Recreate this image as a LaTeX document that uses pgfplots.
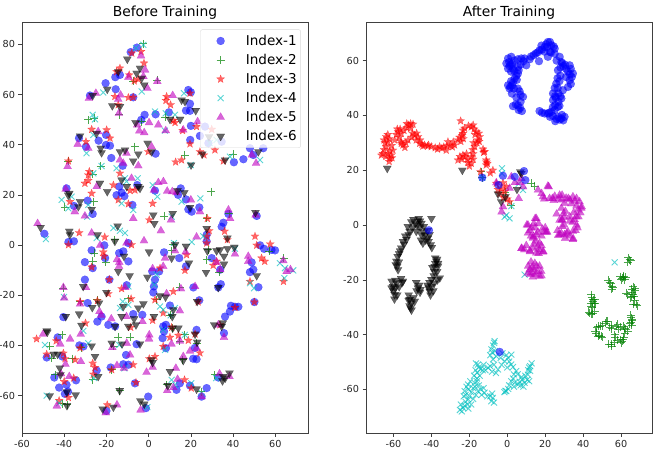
\documentclass[border=0pt]{standalone}
\usepackage{fontspec}
\setmainfont{DejaVu Sans}
\usepackage{pgfplots}
\pgfplotsset{compat=1.18}

\definecolor{mgreen}{rgb}{0,0.5,0}
\definecolor{mcyan}{rgb}{0,0.75,0.75}
\definecolor{mmag}{rgb}{0.75,0,0.75}
\definecolor{tickgray}{gray}{0.15}

% filled five-point star, plotmarks has only the stroked one
\pgfdeclareplotmark{fstar}{%
  \pgfpathmoveto{\pgfpointpolar{90}{\pgfplotmarksize}}%
  \pgfpathlineto{\pgfpointpolar{126}{0.42\pgfplotmarksize}}%
  \pgfpathlineto{\pgfpointpolar{162}{\pgfplotmarksize}}%
  \pgfpathlineto{\pgfpointpolar{198}{0.42\pgfplotmarksize}}%
  \pgfpathlineto{\pgfpointpolar{234}{\pgfplotmarksize}}%
  \pgfpathlineto{\pgfpointpolar{270}{0.42\pgfplotmarksize}}%
  \pgfpathlineto{\pgfpointpolar{306}{\pgfplotmarksize}}%
  \pgfpathlineto{\pgfpointpolar{342}{0.42\pgfplotmarksize}}%
  \pgfpathlineto{\pgfpointpolar{18}{\pgfplotmarksize}}%
  \pgfpathlineto{\pgfpointpolar{54}{0.42\pgfplotmarksize}}%
  \pgfpathclose\pgfusepathqfillstroke}

\pgfplotsset{
  panel/.style={
    scale only axis, width=286bp, height=411bp,
    axis line style={black!75, line width=0.8pt},
    tick align=outside, tick pos=left,
    major tick length=3.5bp,
    every tick/.style={black!75, line width=0.6pt},
    tick label style={font=\fontsize{9.7}{11}\selectfont, text=tickgray},
    /pgf/number format/assume math mode=true,
    title style={font=\fontsize{13.9}{16}\selectfont, yshift=-7bp},
  },
  % only marks brings its own legend image, this one leaves the room around the mark
  wide legend/.style={legend image code/.code={
    \path (-18bp,0bp) (23bp,0bp);
    \draw[##1] plot coordinates {(0bp,0bp)};}},
  idx1/.style={only marks, wide legend, mark=*, mark size=4bp,
    mark options={draw=blue, fill=blue, opacity=0.6, line width=0.1pt}},
  idx2/.style={only marks, wide legend, mark=+, mark size=4bp,
    mark options={draw=mgreen, opacity=0.7, line width=0.9pt}},
  idx3/.style={only marks, wide legend, mark=fstar, mark size=4.3bp,
    mark options={draw=red, fill=red, opacity=0.6, line width=0.1pt}},
  idx4/.style={only marks, wide legend, mark=x, mark size=4.2bp,
    mark options={draw=mcyan, opacity=0.65, line width=0.9pt}},
  idx5/.style={only marks, wide legend, mark=triangle*, mark size=4.7bp,
    mark options={draw=mmag, fill=mmag, opacity=0.6, line width=0.1pt}},
  idx6/.style={only marks, wide legend, mark=triangle*, mark size=4.7bp,
    mark options={draw=black, fill=black, opacity=0.6, line width=0.1pt, rotate=180}},
}

\begin{document}
\begin{tikzpicture}
\useasboundingbox (-22bp,-23bp) rectangle (640bp,433bp);

\begin{axis}[panel, at={(0bp,0bp)}, anchor=south west,
  title={Before Training},
  xmin=-60, xmax=75.5, ymin=-74.9, ymax=88.9,
  xtick={-60,-40,...,60}, ytick={-60,-40,...,80},
  legend style={at={(0.975,0.982)}, anchor=north east,
    font=\fontsize{13.6}{15}\selectfont,
    draw=black!15, fill=white, fill opacity=0.8, text opacity=1,
    rounded corners=2bp, row sep=3.3bp, inner xsep=2bp, inner ysep=3.5bp},
  legend cell align=left,
]
\addplot[idx1] coordinates {
(-5.5,78.7) (-8.5,76.9) (-20.4,64.5) (-15.8,66.9) (-13.6,67.8) (-15.6,62.1) (-27.8,59.6) (-7.3,58.9)
(18.8,61.8) (20,60.9) (19.6,56.3) (17.7,53.6) (19.6,53.5) (9.6,52.9) (3.3,52.1) (-1.9,51.9) (-3.5,49.9)
(20,47.5) (26.7,47.2) (19.7,41.9) (24.3,43.5) (28.3,40.6) (34.6,41.2) (-23.7,41.6) (-20.2,43.9) (-18.3,39.6)
(-20.2,39.9) (-29.7,39.2) (-33,42.6) (-17.7,34.7) (3.3,36.4) (40.4,33) (44.9,34.2) (49.6,35.9) (48,38.6)
(54.3,38.6) (-38.9,22.6) (-28.9,17.7) (-26.5,12.4) (-35.4,15.6) (-13.9,23.3) (-15.2,19.9) (-12.8,20.9)
(-11.5,19.5) (-7.7,16) (-5.4,23.9) (-12.3,31.6) (3,21.7) (15.2,22.6) (14,20) (17.7,18.2) (18.8,14.2)
(20.4,13.3) (24,15) (37.8,12.4) (51.2,11.6) (35.4,8.9) (34.6,7.3)
(-49.4,4.5) (-38,1.2) (-35.4,1.5) (-27,-2.1) (-30.2,-6.8) (-26.5,-9.2) (-20.6,-5.2) (-21,-0.1) (-9.6,0.8)
(-14,-3.2) (-12,-2.5) (-9.6,-6.5) (-30.2,-13.8) (-18.6,-13.8) (-10.4,-16) (7.3,-2.9) (14.5,-5.2) (1.7,-10.5)
(5,-10.5) (3,-13.8) (2.5,-16.5) (2.2,-18.9) (17.7,-8.5) (21.2,-16.9) (24,-22) (27.5,4.1) (27.5,1.5) (29.9,-5.2)
(33.9,-9.8) (34.2,-15.6) (33,-16.9) (48.8,-6.9) (48,-10.8) (49.6,-9.8) (52,-16.8) (50.1,-22.7) (52.8,-0.1)
(54.7,-1.5) (58.2,-1.9) (59.9,-2.1) (-28.9,-23.1) (-40.4,-28.7) (-24.3,-30.5) (-22.3,-28.5) (-19.1,-31.8)
(-15.9,-32.4) (-7.3,-27.5) (-3,-27.8) (-43.1,-36.8) (-32.8,-40) (-30.9,-40.4) (-5.7,-39.5) (10.1,-24.1)
(6.9,-32.4) (8.2,-31.8) (7.3,-34.4) (6.6,-37.1) (8.2,-41.1) (22.7,-33.8) (21.9,-41) (21.1,-45.3) (22.7,-45.5)
(38.5,-26.5) (36.2,-28.5) (39,-24.2) (40.9,-24.6) (42.5,-24.6) (35.7,-35.1) (-48.3,-44.8) (-40.9,-44.4)
(-44.7,-52.8) (-42.4,-56.8) (-38.9,-55.7) (-38.2,-58.4) (-39.7,-59.3) (-34.4,-53.9) (-18,-48.8) (-12,-47.5)
(-9.6,-47.7) (-10.7,-43.8) (-24.6,-50) (-6.5,-55.1) (-0.2,-60.4) (-1.3,-65) (13.2,-57.7) (14.8,-55.1)
(19.6,-56) (27.5,-57) (25.1,-60.4) (33,-52.8) (-20,-66.1)
};
\addlegendentry{Index-1}
\addplot[idx2] coordinates {
(-2.5,80.2) (4.1,65.8) (-7.3,65.4) (-28.6,49.9) (-25.7,50.5) (-13.9,51.9) (-6.5,39.2) (-22.7,31.5) (-38,33.5)
(17.2,35.9) (40.1,36.3) (29.7,21.3) (-26,17.3) (-39.7,15) (7.4,11.6) (38.3,12.4) (27.5,10.6) (-26.5,28.3)
(-3.3,49.2) (7.8,50.9) (-16,2.1) (11.7,0.1) (10.9,-2.3) (-25.7,-3.2) (-20.3,-6.8) (-26.5,-6.5) (28.3,-1.9)
(27.5,-5.9) (57.2,-2.5) (64,-5.2) (33.5,-10.9) (14.8,-16.9) (-40.4,-17.2) (3.8,-21.8) (-32.5,-22.5) (-24.3,-21.8)
(-9.6,-21.4) (10.1,-28) (11.2,-33.1) (14.8,-38.4) (-14.3,-36.8) (-8.8,-36.8) (-16.6,-40.4) (-41,-35.8)
(-46.8,-40.4) (-46,-45) (-32,-41) (-36.3,-45.3) (-26.5,-53.7) (-44.3,-51.7) (-13.7,-58) (-40.9,-63.3)
(-38.6,-63.7) (16.1,-45.7) (31.4,-51.7) (25,-58.4) (8.5,-55.7) (-17.5,-49.7) (22.7,-39.1) (17,-35.8)
};
\addlegendentry{Index-2}
\addplot[idx3] coordinates {
(-8,76.5) (-3.6,77.1) (-2.2,72.5) (-13.6,70.5) (-15.2,69.1) (-9.2,67.8) (-6.8,65.4) (-4.9,66.1) (-16,59.2)
(-9.6,58.8) (-7.3,58.9) (-14.4,55.9) (8.5,59.2) (8.2,57.6) (10.4,55.9) (19.6,60.5) (11.7,49.6) (12.5,48.8)
(22.7,47.2) (29.9,46.1) (16.1,45.6) (19.6,40.3) (24.3,37.2) (26.2,35.9) (31.4,37.9) (35.4,33.5) (12.8,33.1)
(15.6,33.9) (-0.2,37.2) (-27,46.1) (-19.9,45.9) (-18.3,42.6) (-29.7,41.2) (-38,33.5) (-28.1,29.3) (-28.6,27.9)
(-28.6,25.7) (-30.2,24.6) (-27,20.6) (-16.7,23.9) (-14.4,18) (-9.6,16.4) (-13.6,28.6) (-8.8,21.7) (-6.5,21.9)
(1.9,16.6) (-37.3,17.3) (27.8,10.6) (0.3,10)
(-32.9,4.9) (-38,0.1) (-20.8,3.2) (-8.1,0.1) (-21.5,-2.8) (-21.2,-4.5) (-27,-8.8) (-18.6,-13.8) (-12.8,-17.4)
(-19.1,-19.4) (-32.5,-22.5) (-24.3,-22.2) (-8.3,-21.4) (27.5,3.5) (28.7,5.7) (36,5.5) (37.3,2.1) (27.5,0.8)
(5.4,-9.2) (17.2,-10.1) (18,-3.9) (30.6,-8.1) (32.2,-6.5) (11.7,-18.5) (3,-21.8) (6.9,-27.1) (1.9,-30) (23.5,-22.7)
(50.4,3.5) (51.2,-0.1) (57.6,0.4) (53.5,-5.2) (55,-6.5) (63.9,-14.5) (48,-14.5) (50.1,-22.7) (40.9,-24.9)
(-29.9,-31.1) (-53.1,-37.4) (-43.8,-38.2) (-32.5,-41) (-48.3,-43.5) (-40.4,-43.1) (-39.6,-45.3) (-34.8,-45.7)
(-26.5,-47.1) (-25.4,-48.8) (-26.2,-51.5) (-17.5,-49.7) (-7.3,-47.7) (-6,-54.8) (-40,-54.4) (-35.5,-53)
(-38,-60.8) (-42.4,-62) (-19.6,-63.7) (3,-44.4) (0.3,-45.3) (10.1,-36.8) (14.1,-36) (18.8,-38) (22,-35.5)
(24.3,-43) (6.9,-40.4) (-8.5,-32.8) (17,-53.7) (20.2,-57) (10.9,-32.8) (33.8,-31.8)
};
\addlegendentry{Index-3}
\addplot[idx4] coordinates {
(-2.5,79.8) (-6,78.5) (-21.5,60.8) (-3.3,61.2) (-26.5,51.9) (-25.4,50.1) (3,53.2) (8.1,52.5) (12.5,51.9) (16.7,60.5)
(7.7,45.6) (-29.4,36.6) (-26.2,43.9) (-15.2,30.6) (-22.3,31.5) (-26.2,28.6) (-5.2,26.6) (-11.2,26.6) (-10.5,25.3)
(1.9,23.9) (4.1,19.3) (24.5,18.6) (-41.2,18) (-36.5,19.3) (-28.6,16) (-38,14.6) (-29.1,11.3) (-12.8,16.6) (-7.3,14)
(15.6,17.3) (10.9,11.3) (19.9,31.9) (38.5,35.2) (52.8,33.9) (32.2,41.9) (29,40.6)
(-48.7,2.4) (-11.2,4.8) (-13.6,5.7) (-16.7,6.8) (-24.6,2.8) (12,0.8) (20.4,1.2) (25.9,3.5) (40.9,-1.5) (62.2,-7.2)
(64.6,-9.2) (68.5,-10.1) (64.3,-13.2) (49.9,-17.2) (48,-15.2) (2.7,-15.8) (3.8,-11.8) (-40.1,-20.7) (-12.3,-22.5)
(-13.6,-25.1) (-9.6,-23.8) (-9.6,-16.5) (5.4,-24.5) (6.9,-25.8) (12.5,-25.1) (10.4,-28) (-30.9,-34.2) (-49.1,-39.8)
(-28.6,-39.1) (-13.9,-39.8) (17.2,-35.8) (6.9,-33.8) (7.8,-41.8) (-11.5,-49.1) (-48.3,-60) (-42.4,-63) (-0.6,-64.6)
(10.9,-53.7) (12.5,-55.7) (20.2,-55.1) (32,-53) (-25.9,-53) (25.1,-59)
};
\addlegendentry{Index-4}
\addplot[idx5] coordinates {
(-3.6,75.4) (-1.7,69.8) (-9.6,66.9) (-2.5,67.2) (-0.6,62.5) (4.1,65.2) (-25,60.5) (-28.3,58.5) (-13.3,59.8) (-14.4,58.1)
(-14.1,52.5) (11.4,59.6) (-5.4,47.9) (-4.4,45.5) (-2.1,44.8) (0.2,48.8) (4.6,47.9) (8.1,45.6) (23.2,49.2) (16.4,45.9)
(-33.6,40.2) (-28.6,38.6) (-23.9,45.2) (1.4,39.2) (-38.4,31.3) (-10.5,36.6) (-12,32.6) (-4.9,31.6) (-13.6,33.9)
(-8.1,26.6) (4.6,24.9) (7,25.3) (-39.3,22.3) (-24.6,23.3) (2.5,21.9) (8.8,21.5) (11.2,21.3) (13.2,20.9) (20,18)
(24.3,13.3) (-35,13.3) (-30.2,11.6) (-7.3,10.6) (10.6,10) (37.8,14) (38.6,10.6) (50.7,12) (-52.6,8.6) (50.9,32.6) (48.9,35.9)
(-27,4.8) (5.8,5.7) (-2.2,1.7) (22.7,3.2) (-23,-0.1) (-10.5,0.8) (17.5,-2.8) (-15,-5.8) (-13.9,-6.9) (-14,-8.5)
(7.8,-5.2) (12.5,-2.3) (6.9,-8.5) (1.9,-9.4) (32.2,-6.9) (33.9,-9.8) (47.2,-4.5) (40.9,-3.6) (47.2,-6.5) (63.8,-6.2)
(65.4,-10.5) (67.2,-9.8) (-40.4,-16.9) (-40,-21.1) (-29.7,-16.9) (-11.1,-16.9) (22,-16.5) (15.3,-17.4) (8.5,-19.4)
(-32.5,-23.5) (-23.3,-26.5) (-22.5,-28) (-17.7,-29.4) (-10.5,-28.5) (-2.9,-30.5) (14.8,-26.2) (-32.2,-35.5) (-50,-35.5)
(-37.2,-37.4) (-41.9,-39.4) (0.3,-35.8) (0.2,-37.4) (-17.2,-40.8) (-10.4,-39.1) (10.8,-39.4) (14.8,-38.2) (33,-31.8)
(35.7,-36.8) (16.4,-44.4) (19.6,-42.2) (22.7,-41.1) (-32.1,-46.4) (-39.4,-47.5) (-8.8,-43.8) (-15,-48) (-11.7,-49.1)
(1.9,-48.7) (-1,-50.7) (12.9,-49.1) (13.7,-53.5) (-37.6,-52.4) (-41.5,-51.3) (8.8,-58) (11.7,-56.8) (25.1,-60.4)
(33.6,-51.3) (38.3,-52.4) (-43.5,-64.1) (-15,-63.7) (-3.8,-65.7) (-20.3,-66.8)
};
\addlegendentry{Index-5}
\addplot[idx6] coordinates {
(-10.1,74.1) (-4.1,70.5) (-5.7,68.5) (-14.4,69.1) (-3.3,66.5) (-2.1,63.8) (-19.6,62.1) (-26.5,59.6) (-17.2,55.5)
(-13.6,55.2) (15.6,57.8) (17.2,57.2) (22.3,53.6) (-6.2,48.8) (10.1,50.1) (14.9,50.1) (-32.5,43.5) (-24.7,44.5)
(-22.7,38.6) (-22.3,36.8) (-13.6,37.2) (-11.2,37.9) (-4.9,36.3) (-7.3,33.5) (-0.5,40.6) (1.4,37.2) (20.1,31.9)
(25.4,36.3) (28.6,43.2) (36.2,33.9) (52,37.2) (-12.8,25.9) (-10.4,23.3) (-23.1,24.6) (-19.6,21.3) (-4.9,23.3)
(-4.1,22.6) (-38.1,19.9) (-37.6,20.6) (-32.5,17.3) (-33.3,15.3) (-27,14.2) (13.7,21.7) (16.9,20.9) (19.6,15) (2.2,12)
(11.4,12.6) (50.6,13) (2.7,8.6) (-14.7,7.6) (-51.2,7) (27.5,6.6)
(-37.6,5.5) (-37.3,4.1) (-24.2,4.1) (-16,1.5) (17.7,-0.5) (12.5,0.1) (0.2,-2.8) (10.9,-5.2) (19.1,-7.2) (27.8,-2.3)
(32.2,-2.3) (33.8,-1.9) (37.3,2.8) (37.4,-1.5) (40.6,-0.9) (35.7,-4.5) (35.7,-7.6) (27.2,-10.9) (51.2,-12.2) (33,-16.9)
(-14.4,-10.5) (-9,-12.2) (-11.7,-4.5) (-0.6,-12.8) (-31,-16.5) (-20,-18.9) (5.4,-20.2) (8,-20.7) (23,-22.5) (-26.7,-24.9)
(-23.5,-23.1) (-32.9,-27.5) (-12,-24.5) (-2.5,-23.4) (-4.9,-25.1) (-39.3,-28.5) (-12.8,-28.5) (-6.9,-29.4) (2.5,-28.5)
(11.7,-25.8) (11.2,-28.5) (-31.8,-32) (-48.3,-34.2) (-48,-34.7) (-15.9,-32.4) (-9.6,-32.4) (-6,-31.8) (11.4,-33.1)
(14.1,-33.1) (22,-35.5) (35.1,-31.1) (31.1,-31.8) (34.6,-32.4) (-27,-40.2) (-17.5,-39.1) (-12.6,-39.4) (-4.1,-39.4)
(23,-38.7) (-45,-43.5) (-43.1,-43.5) (-25.4,-44.4) (1.4,-45.7) (1.9,-46.8) (16.4,-46) (-42.1,-49) (-41.8,-51.7)
(-23.9,-52.4) (10.1,-50.4) (9.1,-56) (-13.7,-58) (-46.9,-60.1) (-34.6,-59.7) (-38.8,-58.6) (-38.7,-64) (-3.9,-62.1)
(-2.1,-63.4) (-21.8,-65.3) (-16.7,-64.6) (22.7,-57.4) (35.3,-52.4) (35,-54.1) (38.3,-51) (36.3,-53)
};
\addlegendentry{Index-6}
\end{axis}

\begin{axis}[panel, at={(344bp,0bp)}, anchor=south west,
  title={After Training},
  xmin=-74.5, xmax=76.3, ymin=-75.9, ymax=74.1,
  xtick={-60,-40,...,60}, ytick={-60,-40,...,60},
]
\addplot[idx1] coordinates {
(7.7,41.6) (3,43.4) (5.6,43.7) (8.3,46.8) (5.6,49.8) (1.2,49.8) (0.4,51) (3.9,53.5) (5.6,55.3) (0.4,57.1) (3,57.1)
(5.6,57.7) (10,58.3) (0.4,60.8) (2.1,61.4) (7.4,60.8) (9.1,60.8) (13.9,62) (17,63.8) (19.7,65) (21.4,66.8) (23.2,65.6)
(25,64.4) (21.4,61.4) (27.6,61.4) (28.5,59.5) (32.9,58.3) (34.6,55.3) (32.9,52.9) (32,50.4) (26.7,56.5) (25.8,51.6)
(29.3,49.2) (24.1,48) (28.5,46.2) (24.1,45.6) (26.7,43.1) (23.2,41.3) (21.4,40.7) (17,41.6) (19.7,40.7) (26.7,39.5)
(30.2,39.5) (25.3,37.9) (28.5,38.9) (16.7,59.8)
(6.8,42.7) (7,45) (4.8,46.5) (2.4,48) (2.5,51) (2,52.5) (4.8,54.5) (3.7,56.2) (1.7,58.5) (1,59.5) (3.7,60) (5.5,60.5)
(11.8,60.5) (15,62.6) (18.3,64) (20.5,66) (22.5,66.8) (24.5,65.2) (25,62.5) (22.5,63.2) (19.5,63.3) (29,59) (30.5,58.5)
(33.5,57) (34,54) (32,56) (31,54) (26.5,53.6) (26.6,50) (27,48) (25.5,46.5) (27,45) (25.2,43.8) (25,42) (22,41) (18.3,41)
(24,39.8) (27.7,38.5) (28.8,40.2) (29.5,58)
(6,42) (4.5,44) (7,47.5) (6.5,48.8) (3.5,49.8) (1.6,50.5) (3,52) (5,53) (6,56.5) (2,56) (1.2,58) (-0.5,59) (2.5,58.8) (7,58.5) (8.5,59.8)
(12.5,61.5) (16,63) (18,65.5) (21,65) (23,63) (26,60) (28,57.5) (31,57) (33,55) (33.5,51.5) (28,54.5) (27.5,52.5) (25,50) (28,47)
(25.2,47) (27.5,43.5) (24,43) (22.5,39.5) (26,38.7) (29.5,38.2)
};
\addplot[idx2] coordinates {
(64.5,-12.6) (63.5,-13.5) (53.1,-20.2) (55.2,-22.4) (55,-23.5) (61,-19.1) (59.5,-18.8) (62,-19.9) (67.1,-23) (66,-24.5) (62.7,-24.8)
(66.3,-25.4) (65,-26.5) (67,-26) (68,-29) (45.2,-27.2) (44.3,-29.7) (43.4,-32.1) (45.8,-28.5) (44.5,-26.5) (46.5,-28.8) (44.3,-25.4)
(45,-32.3) (65.4,-33.9) (65.4,-35.7) (66,-34.5) (64.5,-36) (61.9,-37.6) (52.2,-35.1) (47.8,-36.9) (50,-36.8) (54,-37.2) (55,-36.8) (58.3,-36.3)
(46.9,-39.4) (49.6,-40.6) (48.5,-40.2) (56.6,-40) (61,-41.8) (60,-43) (54.8,-43.6) (56.5,-43) (58.5,-38) (63.6,-38.8)
(12.7,15.2) (14.4,14.2) (-13.7,19.4) (-13.2,17.3) (2.1,7.3) (-1,12)
(65,-13) (63.8,-12) (54.5,-21.5) (54,-20.8) (55.5,-22.8) (60.5,-19.5) (61.5,-18.6) (60,-20) (62.5,-19) (66.5,-22.5) (67.5,-24) (65.5,-23.5)
(63.5,-25.5) (65.5,-26) (67.2,-27.5) (66.5,-29) (68.5,-29.5) (45,-28) (44,-28.5) (46,-27) (44.8,-30) (43,-31.8) (44.2,-32.5) (46,-31.5)
(65,-33) (66,-35) (65.5,-36.5) (62.5,-38) (61.5,-37) (51.5,-35.8) (53,-35.2) (49,-37) (47.2,-37.5) (55,-37.8) (57.5,-37) (59.5,-37.2)
(46.5,-39) (48,-40.5) (50,-41) (57,-41) (60.5,-42.5) (61.5,-41) (55,-44.2) (53.5,-43.5) (58,-42) (62,-39.5) (59.8,-41.8)
};
\addplot[idx3] coordinates {
(-65.6,26.1) (-62,24.3) (-63.8,28.6) (-60.3,27.3) (-63.8,32.2) (-62.9,30.4) (-57.6,34) (-55.9,33.4) (-52,36.5) (-49.7,36.8)
(-55,29.2) (-52.4,31) (-48.9,32.8) (-47.1,32.2) (-46.2,29.8) (-43.6,29.2) (-40.1,28.6) (-35.7,28.6) (-32.2,27.3) (-31.3,30.4)
(-27.8,29.2) (-26,31) (-23.4,33.4) (-24.6,38) (-19,35.8) (-16.3,34) (-14.6,32.2) (-17.2,28.6) (-12.8,27.7) (-11.1,23.7) (-11.1,21.9)
(-23.4,25.5) (-19,24.9) (-26,23.7) (-19,22.5) (-22.5,24.9) (-61.2,25.5) (-66.4,25.5) (-59.4,31) (-55.9,29.8) (-15.5,31) (-23.4,34.6)
(-7.6,20) (-14.1,19.4)
(-64.5,30) (-62,27) (-64,25) (-61,29) (-58.5,33) (-56.5,35) (-53,35.5) (-51,37) (-53.5,30) (-50,33.5) (-48,31) (-45,29.5) (-42,28.8)
(-38,28.2) (-33.5,28.5) (-30,29) (-29,28.5) (-25.2,32) (-23.2,31.5) (-20.5,36.2) (-17.5,35) (-15,33.5) (-16,30) (-18,26) (-20.8,22.8)
(-24,24) (-12,26.8) (-11,23) (-5.8,15.2) (-2.3,15.4) (-1.4,12.2) (-4,11.5) (1.2,8.5) (-9,19)
(-65,27.5) (-63,26) (-60.8,24.5) (-62.3,23.2) (-62.2,31.5) (-65,31) (-63,33) (-57,32) (-58,35) (-54.5,34.5) (-51,35.3) (-53,37) (-56,30.5) (-54,28.3)
(-50.5,32) (-47.8,33.5) (-46,31) (-44.5,28.8) (-41.5,29.2) (-36.8,27.7) (-34.5,28) (-31.8,28.8) (-28.5,30.3) (-24.5,30.5) (-23.8,32.7) (-22.5,35.3)
(-18,36.5) (-17,33) (-14.8,30.5) (-17.8,30) (-18.3,27.5) (-12.5,26.5) (-10.5,22.5) (-21,24) (-25,25) (-18,24) (-20,21.5) (-21.5,26)
(-5,13) (-3,13.5) (-2,10) (0,9.5) (-0.5,14)
};
\addplot[idx4] coordinates {
(-6.7,-42.4) (-8.4,-45.4) (2.1,-47.3) (-1.4,-49.7) (-5.8,-47.9) (-15.5,-50.9) (-10.2,-52.1) (-4.9,-52.7) (2.1,-50.9) (4.7,-53.3)
(12.1,-51.5) (10.9,-54.6) (9.1,-57.6) (5.6,-58.2) (2.1,-57) (-0.5,-60.6) (-17.2,-57.6) (-15.5,-60.6) (-12,-61.2) (-7.6,-63.1)
(-8.4,-64.3) (-22.5,-60.6) (-20.6,-63.7) (-23.4,-66.7) (-19,-65.5) (-20.7,-58.2) (-15.8,-53.9)
(-7.5,-44) (-6.5,-46) (-9,-47.5) (0.5,-48.5) (-2.5,-46.8) (-12.5,-51) (-14,-52.5) (-8,-53.5) (-7,-51) (0,-52) (3.5,-54.5) (3,-56) (11,-53)
(12,-53.2) (8,-56.5) (7,-58.5) (6.5,-57.2) (10.5,-56.5) (1,-58.5) (-1.5,-61) (-16,-56) (-18,-59.5) (-14,-60) (-13.5,-62) (-8,-61.5)
(-22,-62) (-22,-64.5) (-21,-65.5) (-25,-67.5) (-24,-68) (-20.5,-60) (-17.5,-55)
(-7,-43) (-8,-46.5) (-7.5,-49) (-3.5,-48.5) (-0.5,-47.5) (1,-49.8) (3,-51.8) (-9,-51.5) (-11.5,-53) (-6,-54) (-13,-53) (-15,-52) (-16.5,-50.5)
(-3,-51) (5.5,-54.5) (4,-57.5) (7.5,-55.5) (9.5,-55) (11.5,-52) (12.8,-50.5) (11.5,-57) (8.5,-59) (3.5,-59) (0.5,-59.8) (-1,-60.5)
(-16,-57) (-15,-58.5) (-17,-59) (-19,-61) (-16.5,-62) (-12.5,-59.5) (-10.5,-62.5) (-7,-64.8) (-9,-62.5) (-21.5,-59) (-23,-62.5) (-20,-62.5)
(-18,-63.5) (-20.5,-67) (-22.5,-66) (-24.5,-65.5) (-19.5,-57) (-16.8,-53) (-14.5,-55)
(-2.8,20.7) (-2.8,18.8) (2.1,6.9) (-1.4,3) (1.2,2.4) (-0.5,3.6) (-13.2,17.3) (8.3,12.8) (56.6,-13.6) (9.1,-18.1) (6,15)
};
\addplot[idx5] coordinates {
(16.2,12.8) (21.4,14.2) (18.8,10.3) (22.3,9.7) (27.6,10.9) (28.5,9.1) (34.6,10.3) (38.1,8.5) (39,6.1) (28.5,6.1) (27.6,1.8) (32.9,3) (36.4,3)
(30.2,7.9) (37.3,5.5) (15.3,2.4) (10.9,0) (28.7,1.8) (30.6,5) (10.9,-2.9) (16.2,-2.6) (20.6,-2.6) (13.5,-4.7) (7.4,-8.6) (11.9,-9.4) (17,-9)
(18.8,-9.8) (27.6,-3.5) (30.2,-3.5) (34.6,-2.3) (34.6,-5.3) (11.8,-16.3) (17,-15) (10.9,-17.5) (17,-18.7) (13.5,-17.5) (17.9,-16.9) (15.3,-3.5)
(12.7,-1.1) (17,-6.6) (15.3,-10.2) (19.5,9.5) (25,10.5) (31,9.8) (33,9.2) (36.5,7) (35,4.5) (26,4) (30,0) (34.5,1) (37,-1) (14,0.5) (18.5,-1.5)
(32,-2.5) (28.5,-3) (12.5,-4) (13,-15.5) (14.5,-14) (15,-18) (14,-7)
(14.7,2.4) (10.3,0) (19.9,-2.4) (13.8,-4.3) (7.6,-8.5) (12,-9.7) (19,-9.7) (16.5,-10.4) (26.9,-3.7) (34.7,-4.9) (31.3,-3) (28.9,1.9) (36.5,0) (37.5,3)
(29.7,4.2) (39.2,6.7) (36.5,9.7) (28.9,10.9) (23.8,9.7) (18.1,11.5) (21.8,14) (32.2,9.7) (24.5,9) (27,9.5) (33.8,7.8) (35.5,8.8) (38.5,4.5) (35.5,2)
(33,1.5) (30,2.8) (29,-0.5) (26.5,-2) (30.5,-4.8) (33,-4) (36,-2) (14.5,-1) (12,-2) (16.5,0.5) (18,-4) (15,-5.8) (9,-9) (10,-7.5) (13.5,-8.5) (18,-7.5)
(16,-8) (12.5,-13.5) (15.5,-15) (12,-18) (14,-16) (16,-17) (18,-18.5) (13.5,-19) (21,-2.5) (20,-1) (11,-15)
(-5.8,15.4) (2.1,17.6) (7.4,17) (1.2,13.4) (8.3,14) (6,9.7) (-2.3,6.7) (-3,4.8) (4,15.5) (6.5,15.5)
};
\addplot[idx6] coordinates {
(-40,2.4) (-46.7,2.4) (-50.6,1.2) (-45.3,0.6) (-51.5,-2.3) (-53.2,-5.3) (-55.9,-8.4) (-58.5,-13.2) (-57.6,-16.3) (-45.3,-3.5) (-48,-2.3)
(-44.5,-6.6) (-40.4,-7.2) (-41.8,-4.7) (-37.4,-13.2) (-38.3,-15.1) (-40,-19.9) (-35.6,-19.3) (-40.9,-24.2) (-40,-22.4) (-47.1,-23)
(-60.3,-22.4) (-59.4,-25.4) (-55,-20.5) (-58.5,-21.2) (-51.5,-27.2) (-48.8,-27.8) (-51,-30.3)
(-48.5,0.5) (-47,1.5) (-52.5,-0.5) (-54.5,-7) (-57,-10.5) (-58,-15) (-46,-1) (-43,-5.5) (-42,-2) (-38.5,-17) (-37,-17) (-41,-21) (-39,-24) (-46,-24.5)
(-48,-21) (-60,-24) (-57,-22.5) (-56,-19.5) (-61,-20.5) (-50.5,-28.5) (-52,-25.5) (-38,-14) (-36.5,-15)
(-49.5,2) (-46,1.5) (-44,-0.5) (-50,-1) (-52,-3.5) (-53.8,-4) (-55,-6) (-56.5,-9.5) (-57.8,-11.5) (-58.8,-14.5) (-57.2,-13.5) (-47.5,0) (-44,-2.5) (-43.5,-3.8)
(-45.5,-5.5) (-41.5,-6) (-39.8,-8.2) (-41,-3.5) (-37,-12.5) (-38,-12) (-36.5,-14) (-39.5,-15.5) (-38.8,-18.5) (-36.8,-20) (-38.5,-21.2) (-42,-22) (-40.5,-25.5)
(-41.5,-23) (-46.5,-22) (-45.8,-23.5) (-47.8,-24) (-61,-23) (-59,-23) (-58,-25.5) (-59.5,-27) (-55.5,-21) (-59,-20.2) (-52,-27.5) (-49.5,-26.5) (-51.5,-29.5)
(-50.5,-31)
(-63.3,20.7) (-23.7,20) (-4.9,11.3) (-3.2,8.5) (-1,10.3) (5.1,13) (6.9,19.4) (7.4,18.8)
};
\addplot[idx1] coordinates { (-13.2,17.3) (-2.3,18) (8.8,19.7) (9.5,16.4) (3.9,17.6) (-4.6,14.6) (-41.3,-1.9) (-4,-46.3) };
\end{axis}
\end{tikzpicture}
\end{document}
